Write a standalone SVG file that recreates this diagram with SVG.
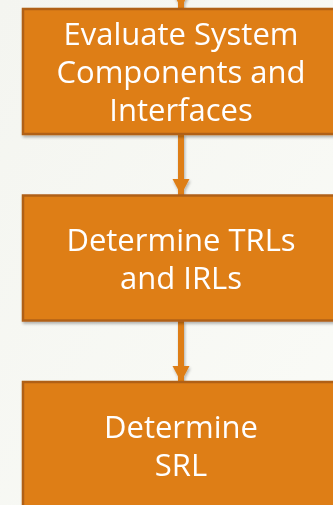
<svg xmlns="http://www.w3.org/2000/svg" width="333" height="505" viewBox="0 0 333 505">
<defs>
<linearGradient id="bg" x1="0" y1="0" x2="1" y2="1">
<stop offset="0" stop-color="#F4F5F0"/>
<stop offset="1" stop-color="#FAFBF7"/>
</linearGradient>
<filter id="sh" filterUnits="userSpaceOnUse" x="0" y="-20" width="360" height="560">
<feGaussianBlur in="SourceAlpha" stdDeviation="1.5"/>
<feOffset dx="1" dy="1.5" result="b"/>
<feComponentTransfer><feFuncA type="linear" slope="0.3"/></feComponentTransfer>
<feMerge><feMergeNode/><feMergeNode in="SourceGraphic"/></feMerge>
</filter>
<marker id="ah" markerUnits="userSpaceOnUse" markerWidth="17" markerHeight="18" refX="16" refY="8.5" orient="auto">
<path d="M0,0 L16,8.5 L0,17 Z" fill="#DE7E19"/>
</marker>
</defs>
<style>
.box{fill:#DE7E19;stroke:#B06017;stroke-width:2.5}
.t{font-family:"Open Sans","Noto Sans",sans-serif;font-size:31px;fill:#FFFFFF;text-anchor:middle}
.c{stroke:#DE7E19;stroke-width:6;fill:none}
</style>
<rect width="333" height="505" fill="url(#bg)"/>
<g id="connectors" filter="url(#sh)">
<line class="c" x1="181" y1="-10" x2="181" y2="8" marker-end="url(#ah)"/>
<line class="c" x1="181" y1="134" x2="181" y2="195" marker-end="url(#ah)"/>
<line class="c" x1="181" y1="321" x2="181" y2="382" marker-end="url(#ah)"/>
</g>
<g id="node1" filter="url(#sh)">
<rect class="box" x="23" y="9" width="330" height="125"/>
<text class="t" x="181" y="45">Evaluate System</text>
<text class="t" x="181" y="83">Components and</text>
<text class="t" x="181" y="121">Interfaces</text>
</g>
<g id="node2" filter="url(#sh)">
<rect class="box" x="23" y="195.5" width="330" height="125"/>
<text class="t" x="181" y="251">Determine TRLs</text>
<text class="t" x="181" y="289">and IRLs</text>
</g>
<g id="node3" filter="url(#sh)">
<rect class="box" x="23" y="382" width="330" height="140"/>
<text class="t" x="181" y="438">Determine</text>
<text class="t" x="181" y="476">SRL</text>
</g>
</svg>
